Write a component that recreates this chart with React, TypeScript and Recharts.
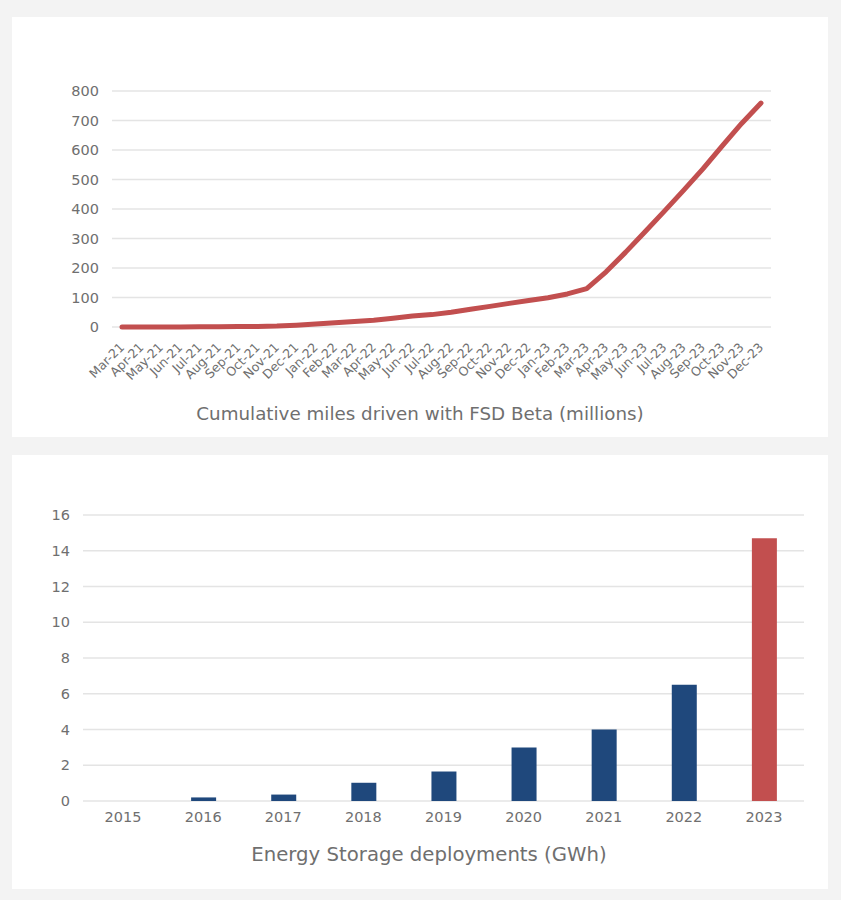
import { Bar, BarChart, CartesianGrid, Cell, Line, LineChart, XAxis, YAxis } from "recharts";

const months = [
  "Mar-21", "Apr-21", "May-21", "Jun-21", "Jul-21", "Aug-21", "Sep-21", "Oct-21", "Nov-21", "Dec-21",
  "Jan-22", "Feb-22", "Mar-22", "Apr-22", "May-22", "Jun-22", "Jul-22", "Aug-22", "Sep-22", "Oct-22",
  "Nov-22", "Dec-22", "Jan-23", "Feb-23", "Mar-23", "Apr-23", "May-23", "Jun-23", "Jul-23", "Aug-23",
  "Sep-23", "Oct-23", "Nov-23", "Dec-23",
];
const fsdMiles = [
  0, 0, 0.2, 0.4, 0.7, 1, 1.5, 2, 3, 6,
  10, 14, 19, 23, 30, 37, 42, 50, 60, 70,
  80, 90, 99, 112, 130, 187, 253, 322, 392, 463,
  536, 614, 690, 759,
];
const milesTicks = [0, 100, 200, 300, 400, 500, 600, 700, 800];

const years = ["2015", "2016", "2017", "2018", "2019", "2020", "2021", "2022", "2023"];
const storageGwh = [0, 0.2, 0.36, 1.02, 1.65, 3.0, 4.0, 6.5, 14.7];
const gwhTicks = [0, 2, 4, 6, 8, 10, 12, 14, 16];

const FONT = "'DejaVu Sans', sans-serif";
const GREY = "#6f6f6f";
const GRID = "#e4e4e4";
const RED = "#c24f4f";
const BLUE = "#1f487c";

const milesData = months.map((m, i) => ({ month: m, miles: fsdMiles[i] }));
const storageData = years.map((y, i) => ({ year: y, gwh: storageGwh[i] }));

const MonthTick = ({ x, y, payload }: any) => (
  <text
    x={x}
    y={y}
    dy='0.35em'
    transform={`rotate(-45 ${x} ${y})`}
    textAnchor='end'
    fill={GREY}
    fontSize={12.5}
    fontFamily={FONT}>
    {payload.value}
  </text>
);

const panel = (top: number, height: number): React.CSSProperties => ({
  position: "absolute",
  left: 12,
  top,
  width: 816,
  height,
  background: "#ffffff",
});

export default function App() {
  return (
    <div
      style={{
        position: "absolute",
        left: 0,
        top: 0,
        width: 841,
        height: 900,
        background: "#f3f3f3",
        fontFamily: FONT,
      }}>
      <div style={panel(17, 420)}>
        <LineChart
          width={816}
          height={420}
          data={milesData}
          margin={{ top: 74, right: 57, left: 0, bottom: 0 }}>
          <CartesianGrid vertical={false} stroke={GRID} strokeWidth={1.5} />
          <XAxis
            dataKey='month'
            interval={0}
            height={110}
            padding={{ left: 10, right: 10 }}
            tickSize={0}
            tickMargin={18}
            axisLine={false}
            tickLine={false}
            tick={<MonthTick />}
          />
          <YAxis
            width={100}
            domain={[0, 800]}
            ticks={milesTicks}
            tickSize={0}
            tickMargin={13}
            axisLine={false}
            tickLine={false}
            tick={{ fill: GREY, fontSize: 14.5, fontFamily: FONT }}
          />
          <Line
            type='linear'
            dataKey='miles'
            stroke={RED}
            strokeWidth={5}
            strokeLinecap='round'
            strokeLinejoin='round'
            dot={false}
            isAnimationActive={false}
          />
        </LineChart>
        <div
          style={{
            position: "absolute",
            left: 0,
            top: 386,
            width: 816,
            textAlign: "center",
            fontSize: 18.3,
            color: GREY,
          }}>
          Cumulative miles driven with FSD Beta (millions)
        </div>
      </div>

      <div style={panel(455, 434)}>
        <BarChart
          width={816}
          height={434}
          data={storageData}
          margin={{ top: 60, right: 24, left: 0, bottom: 0 }}>
          <CartesianGrid vertical={false} stroke={GRID} strokeWidth={1.5} />
          <XAxis
            dataKey='year'
            height={88}
            tickSize={0}
            tickMargin={11}
            axisLine={false}
            tickLine={false}
            tick={{ fill: GREY, fontSize: 14.5, fontFamily: FONT }}
          />
          <YAxis
            width={71}
            domain={[0, 16]}
            ticks={gwhTicks}
            tickSize={0}
            tickMargin={13}
            axisLine={false}
            tickLine={false}
            tick={{ fill: GREY, fontSize: 14.5, fontFamily: FONT }}
          />
          <Bar dataKey='gwh' barSize={25} isAnimationActive={false}>
            {storageData.map((d, i) => (
              <Cell key={d.year} fill={i === storageData.length - 1 ? RED : BLUE} />
            ))}
          </Bar>
        </BarChart>
        <div
          style={{
            position: "absolute",
            left: 9,
            top: 388,
            width: 816,
            textAlign: "center",
            fontSize: 19.7,
            color: GREY,
          }}>
          Energy Storage deployments (GWh)
        </div>
      </div>
    </div>
  );
}
